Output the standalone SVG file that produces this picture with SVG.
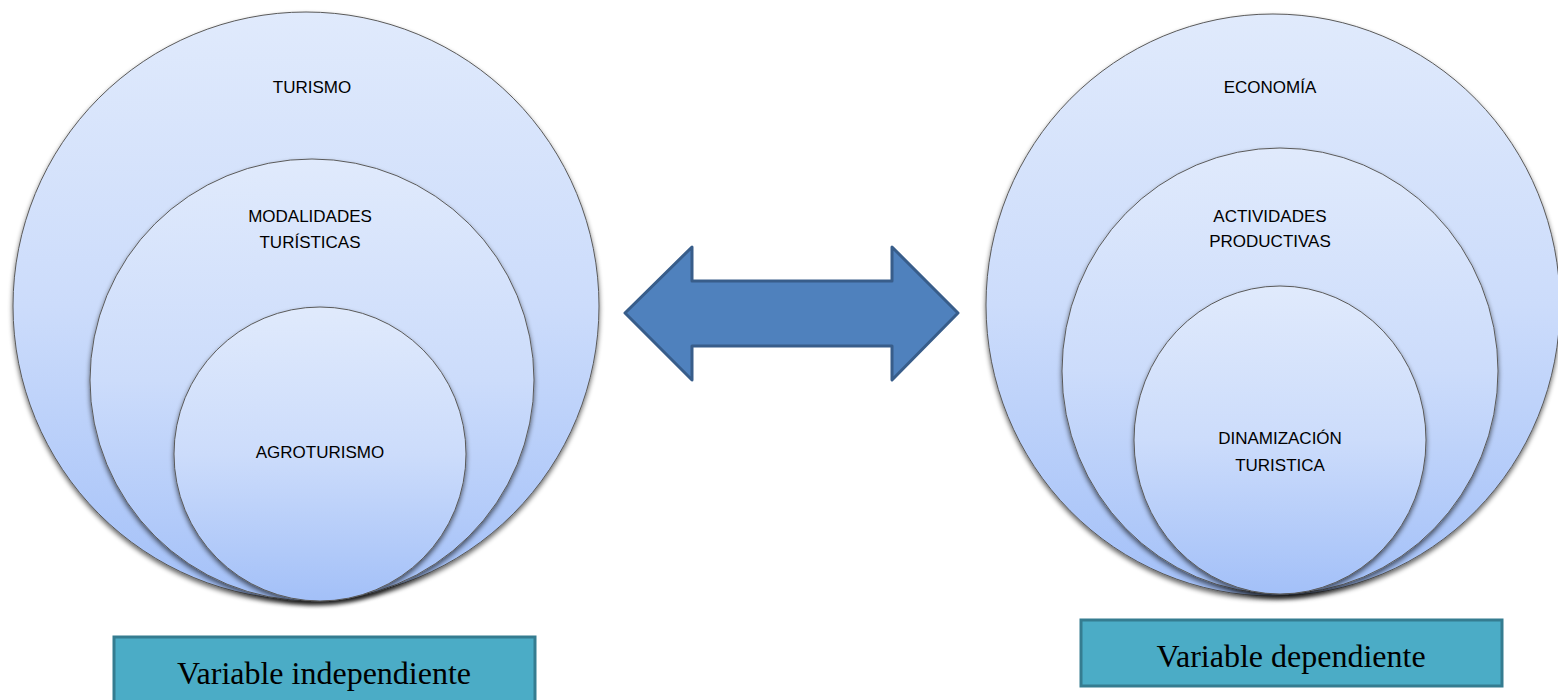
<svg xmlns="http://www.w3.org/2000/svg" width="1558" height="700" viewBox="0 0 1558 700">
<defs>
<linearGradient id="g" x1="0" y1="0" x2="0" y2="1">
<stop offset="0" stop-color="#E0EAFC"/>
<stop offset="0.5" stop-color="#CCDCFB"/>
<stop offset="1" stop-color="#A3C0F8"/>
</linearGradient>
<filter id="sh" x="-10%" y="-10%" width="120%" height="125%">
<feGaussianBlur in="SourceAlpha" stdDeviation="2.5"/>
<feOffset dy="3" result="b"/>
<feComponentTransfer><feFuncA type="linear" slope="0.6"/></feComponentTransfer>
<feMerge><feMergeNode/><feMergeNode in="SourceGraphic"/></feMerge>
</filter>
</defs>
<style>
.c{fill:url(#g);stroke:#5a5a5a;stroke-width:1;filter:url(#sh)}
.t{font-family:"Liberation Sans",Arial,sans-serif;font-size:17px;fill:#000;text-anchor:middle}
.b{fill:#4BACC6;stroke:#357C90;stroke-width:3}
.bt{font-family:"Liberation Serif","Times New Roman",serif;font-size:32px;fill:#000;text-anchor:middle}
.ar{fill:#4F81BD;stroke:#385D8A;stroke-width:3;stroke-linejoin:round}
</style>
<g id="turismo"><ellipse class="c" cx="306" cy="306" rx="293" ry="294"/><text class="t" x="312" y="93">TURISMO</text></g>
<g id="modalidades"><ellipse class="c" cx="312" cy="380" rx="222" ry="221"/><text class="t" x="310" y="222">MODALIDADES</text><text class="t" x="310" y="248">TURÍSTICAS</text></g>
<g id="agroturismo"><ellipse class="c" cx="320" cy="454" rx="146" ry="147"/><text class="t" x="320" y="458">AGROTURISMO</text></g>
<g id="economia"><ellipse class="c" cx="1273" cy="305" rx="287" ry="291"/><text class="t" x="1270" y="93">ECONOMÍA</text></g>
<g id="actividades"><ellipse class="c" cx="1280" cy="371" rx="218" ry="223"/><text class="t" x="1270" y="222">ACTIVIDADES</text><text class="t" x="1270" y="247">PRODUCTIVAS</text></g>
<g id="dinamizacion"><ellipse class="c" cx="1280" cy="440" rx="146" ry="154"/><text class="t" x="1280" y="444">DINAMIZACIÓN</text><text class="t" x="1280" y="471">TURISTICA</text></g>
<g id="connectors"><polygon class="ar" points="625,313 692,247 692,281 892,281 892,247 958,313 892,380 892,346 692,346 692,380"/></g>
<g id="box-independiente"><rect class="b" x="114" y="637" width="421" height="70"/><text class="bt" x="324" y="684">Variable independiente</text></g>
<g id="box-dependiente"><rect class="b" x="1081" y="620" width="421" height="66"/><text class="bt" x="1291" y="667">Variable dependiente</text></g>
</svg>
